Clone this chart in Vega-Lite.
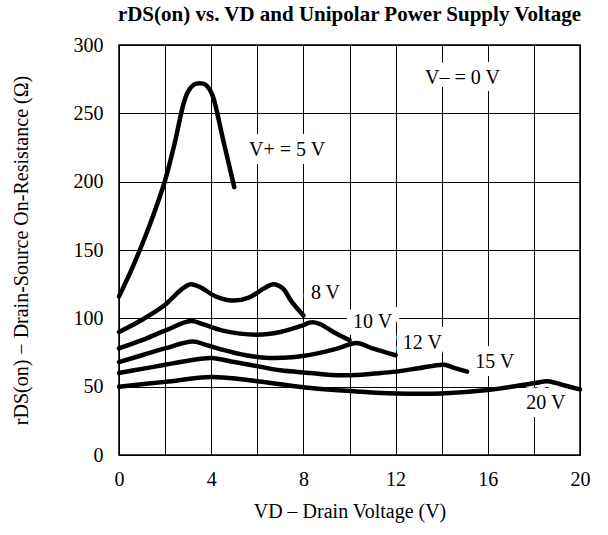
{
  "$schema": "https://vega.github.io/schema/vega-lite/v6.json",
  "width": 461,
  "height": 410,
  "autosize": {"type": "none"},
  "padding": {"left": 119, "top": 45, "right": 28, "bottom": 80},
  "background": "white",
  "title": {
    "text": "rDS(on) vs. VD and Unipolar Power Supply Voltage",
    "font": "Liberation Serif",
    "fontSize": 21,
    "fontWeight": "bold",
    "color": "black",
    "anchor": "middle",
    "offset": 10
  },
  "config": {
    "view": {"stroke": "black", "strokeWidth": 1.5},
    "axis": {
      "grid": true,
      "gridColor": "black",
      "gridOpacity": 1,
      "gridWidth": 1,
      "ticks": false,
      "domain": false,
      "labelFlush": false,
      "labelFont": "Liberation Serif",
      "labelFontSize": 20,
      "labelColor": "black",
      "titleFont": "Liberation Serif",
      "titleFontSize": 20,
      "titleFontWeight": "normal",
      "titleColor": "black"
    }
  },
  "datasets": {
    "curves": [
      {"supply": "5", "vd": 0, "r": 116}, {"supply": "5", "vd": 0.5, "r": 134}, {"supply": "5", "vd": 1, "r": 154}, {"supply": "5", "vd": 1.5, "r": 176}, {"supply": "5", "vd": 2, "r": 201}, {"supply": "5", "vd": 2.4, "r": 227}, {"supply": "5", "vd": 2.8, "r": 257}, {"supply": "5", "vd": 3.0, "r": 266}, {"supply": "5", "vd": 3.25, "r": 271}, {"supply": "5", "vd": 3.5, "r": 272}, {"supply": "5", "vd": 3.75, "r": 271}, {"supply": "5", "vd": 3.95, "r": 267}, {"supply": "5", "vd": 4.1, "r": 261}, {"supply": "5", "vd": 4.5, "r": 232}, {"supply": "5", "vd": 5.0, "r": 196},
      {"supply": "8", "vd": 0, "r": 90}, {"supply": "8", "vd": 1, "r": 99}, {"supply": "8", "vd": 2, "r": 110}, {"supply": "8", "vd": 2.7, "r": 121}, {"supply": "8", "vd": 3.1, "r": 125}, {"supply": "8", "vd": 3.5, "r": 123}, {"supply": "8", "vd": 4.2, "r": 116}, {"supply": "8", "vd": 4.9, "r": 113}, {"supply": "8", "vd": 5.6, "r": 115}, {"supply": "8", "vd": 6.3, "r": 122}, {"supply": "8", "vd": 6.7, "r": 125}, {"supply": "8", "vd": 7.1, "r": 122}, {"supply": "8", "vd": 7.5, "r": 112}, {"supply": "8", "vd": 8, "r": 102},
      {"supply": "10", "vd": 0, "r": 78}, {"supply": "10", "vd": 1, "r": 84}, {"supply": "10", "vd": 2, "r": 91}, {"supply": "10", "vd": 3.1, "r": 98}, {"supply": "10", "vd": 3.6, "r": 96}, {"supply": "10", "vd": 4.5, "r": 91}, {"supply": "10", "vd": 6, "r": 88}, {"supply": "10", "vd": 7, "r": 90}, {"supply": "10", "vd": 8, "r": 95}, {"supply": "10", "vd": 8.3, "r": 97}, {"supply": "10", "vd": 8.7, "r": 96}, {"supply": "10", "vd": 9.3, "r": 90}, {"supply": "10", "vd": 10, "r": 84},
      {"supply": "12", "vd": 0, "r": 68}, {"supply": "12", "vd": 1, "r": 73}, {"supply": "12", "vd": 2, "r": 78}, {"supply": "12", "vd": 3.2, "r": 83}, {"supply": "12", "vd": 3.7, "r": 81}, {"supply": "12", "vd": 4.5, "r": 77}, {"supply": "12", "vd": 5.5, "r": 73}, {"supply": "12", "vd": 6.5, "r": 71}, {"supply": "12", "vd": 7.5, "r": 71.5}, {"supply": "12", "vd": 8.5, "r": 74}, {"supply": "12", "vd": 9.5, "r": 78}, {"supply": "12", "vd": 10.3, "r": 82}, {"supply": "12", "vd": 11, "r": 78}, {"supply": "12", "vd": 12, "r": 73},
      {"supply": "15", "vd": 0, "r": 60}, {"supply": "15", "vd": 1, "r": 63}, {"supply": "15", "vd": 2, "r": 66}, {"supply": "15", "vd": 3, "r": 69}, {"supply": "15", "vd": 4, "r": 71}, {"supply": "15", "vd": 5, "r": 68}, {"supply": "15", "vd": 6, "r": 65}, {"supply": "15", "vd": 7, "r": 62}, {"supply": "15", "vd": 8.3, "r": 60}, {"supply": "15", "vd": 9.2, "r": 58.5}, {"supply": "15", "vd": 10.3, "r": 58.5}, {"supply": "15", "vd": 11, "r": 59.5}, {"supply": "15", "vd": 12, "r": 61}, {"supply": "15", "vd": 13, "r": 63.5}, {"supply": "15", "vd": 14.1, "r": 66}, {"supply": "15", "vd": 14.5, "r": 64}, {"supply": "15", "vd": 15.1, "r": 61},
      {"supply": "20", "vd": 0, "r": 50}, {"supply": "20", "vd": 2, "r": 53.5}, {"supply": "20", "vd": 4, "r": 57}, {"supply": "20", "vd": 6, "r": 54}, {"supply": "20", "vd": 8.3, "r": 49}, {"supply": "20", "vd": 10.3, "r": 46.5}, {"supply": "20", "vd": 12, "r": 45}, {"supply": "20", "vd": 14, "r": 45}, {"supply": "20", "vd": 16, "r": 47.5}, {"supply": "20", "vd": 18, "r": 52.5}, {"supply": "20", "vd": 18.6, "r": 54}, {"supply": "20", "vd": 19.3, "r": 51}, {"supply": "20", "vd": 20, "r": 48}
    ],
    "labels": [
      {"text": "V+ = 5 V", "vd": 7.29, "r": 223},
      {"text": "8 V", "vd": 8.96, "r": 118.5},
      {"text": "10 V", "vd": 11.0, "r": 97},
      {"text": "12 V", "vd": 13.16, "r": 82.3},
      {"text": "15 V", "vd": 16.3, "r": 67.7},
      {"text": "20 V", "vd": 18.52, "r": 38.4},
      {"text": "V– = 0 V", "vd": 14.9, "r": 276}
    ]
  },
  "encoding": {
    "x": {
      "field": "vd", "type": "quantitative",
      "scale": {"domain": [0, 20], "nice": false},
      "axis": {
        "title": "VD – Drain Voltage (V)",
        "values": [0, 2, 4, 6, 8, 10, 12, 14, 16, 18, 20],
        "labelExpr": "datum.value % 4 === 0 ? datum.label : ''",
        "labelPadding": 14,
        "titlePadding": 12
      }
    },
    "y": {
      "field": "r", "type": "quantitative",
      "scale": {"domain": [0, 300], "nice": false},
      "axis": {
        "title": "rDS(on) − Drain-Source On-Resistance (Ω)",
        "values": [0, 50, 100, 150, 200, 250, 300],
        "labelPadding": 16,
        "titlePadding": 42
      }
    }
  },
  "layer": [
    {
      "data": {"name": "labels"},
      "mark": {"type": "text", "font": "Liberation Serif", "fontSize": 20, "align": "center", "baseline": "middle", "color": "white", "stroke": "white", "strokeWidth": 16, "strokeJoin": "round"},
      "encoding": {"text": {"field": "text"}}
    },
    {
      "data": {"name": "curves"},
      "mark": {"type": "line", "color": "black", "strokeWidth": 4.5, "interpolate": "catmull-rom", "strokeCap": "round"},
      "encoding": {"detail": {"field": "supply"}}
    },
    {
      "data": {"name": "labels"},
      "mark": {"type": "text", "font": "Liberation Serif", "fontSize": 20, "align": "center", "baseline": "middle", "color": "black"},
      "encoding": {"text": {"field": "text"}}
    }
  ]
}
